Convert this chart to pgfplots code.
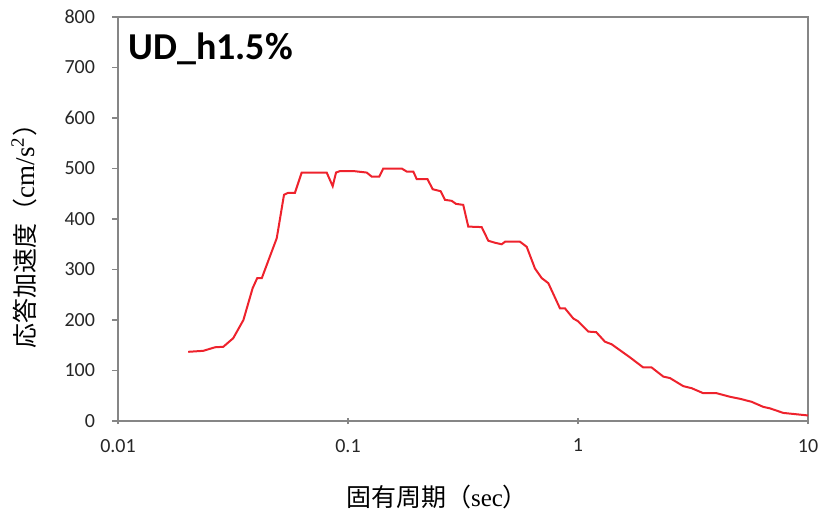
\documentclass[border=0pt]{standalone}
\usepackage{pgfplots}
\pgfplotsset{compat=1.18}
\usepackage{fontspec}
\setmainfont{Carlito}
\newfontfamily\jp{Noto Sans CJK JP}
\newfontfamily\serif{Liberation Serif}
\definecolor{axgray}{RGB}{134,134,134}
\definecolor{linered}{RGB}{238,34,44}
\begin{document}
\begin{tikzpicture}
\useasboundingbox (-59pt,-47.5pt) rectangle (353pt,210.5pt);
\begin{axis}[
  at={(0,0)}, anchor=south west,
  scale only axis, width=345pt, height=202pt,
  xmode=log, log basis x=10,
  xmin=0.01, xmax=10, ymin=0, ymax=800,
  xtick={0.01,0.1,1,10}, xticklabels={0.01,0.1,1,10},
  ytick={0,100,...,800},
  minor xtick={},
  axis line style={axgray, line width=0.6pt},
  tick style={axgray, line width=0.6pt},
  major tick length=3pt,
  ytick align=outside,
  xtick align=center,
  xtick pos=bottom, ytick pos=left,
  /pgf/number format/assume math mode=true,
  ticklabel style={font=\fontsize{10}{11}\selectfont, text=black!85},
  yticklabel style={anchor=east, xshift=-5pt},
  xticklabel style={anchor=north, yshift=-4pt},
  xlabel={{\jp 固有周期（}{\serif sec}{\jp ）}},
  ylabel={{\jp 応答加速度（}{\serif\fontsize{13.5}{14}\selectfont cm/s\textsuperscript{2}}{\jp ）}},
  label style={font=\fontsize{12.5}{14}\selectfont},
  xlabel style={at={(rel axis cs:0.5,0)}, anchor=center, xshift=-13pt, yshift=-38pt},
  ylabel style={at={(rel axis cs:0,0.5)}, anchor=center, xshift=-5.5pt, yshift=47pt},
]
\addplot[linered, line width=1pt] coordinates {
(0.0202,137) (0.0235,139) (0.0264,146) (0.0287,147) (0.0317,164) (0.0351,200)
(0.0385,263) (0.0403,283) (0.0422,283) (0.049,362) (0.0527,448) (0.055,452)
(0.0588,452) (0.0629,492) (0.0808,492) (0.0858,465) (0.0887,492) (0.0924,495)
(0.1054,495) (0.1206,492) (0.1268,484) (0.1368,484) (0.1423,500) (0.1712,500)
(0.18,494) (0.1923,494) (0.199,479) (0.2216,479) (0.2335,459) (0.253,455)
(0.264,438) (0.2825,436) (0.2948,430) (0.317,428) (0.3334,385) (0.3813,384)
(0.4074,357) (0.4356,353) (0.4659,350) (0.4817,355) (0.5597,355) (0.5984,345)
(0.65,302) (0.6955,283) (0.743,273) (0.835,223) (0.878,223) (0.954,203)
(0.997,198) (1.11,177) (1.2,176) (1.31,157) (1.40,152) (1.683,126)
(1.922,106) (2.09,106) (2.349,88) (2.512,85) (2.87,69) (3.12,65)
(3.507,55) (4.009,55) (4.58,48) (5.06,44) (5.69,38) (6.39,28)
(6.84,25) (7.81,16) (8.63,14) (10,11)
};
\node[anchor=north west, inner sep=0pt, font=\fontsize{19}{21}\selectfont\bfseries] at (rel axis cs:0,1) [xshift=5pt, yshift=-7.5pt] {UD\_h1.5\%};
\end{axis}
\end{tikzpicture}
\end{document}
